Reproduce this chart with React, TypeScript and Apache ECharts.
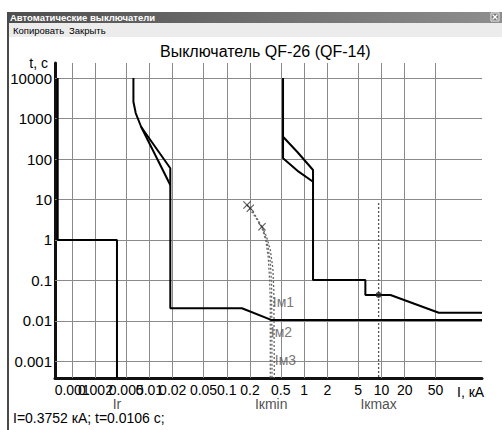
import React, { useEffect, useRef } from 'react';
import * as echarts from 'echarts';

const FONT = '"Liberation Sans", Arial, sans-serif';

// axis extents (log scales)
const X_MIN = 0.0006;
const X_MAX = 200;
const Y_MIN = 0.00039;
const Y_MAX = 23500;

// tick values and labels
const xTicks = [0.001, 0.002, 0.005, 0.01, 0.02, 0.05, 0.1, 0.2, 0.5, 1, 2, 5, 10, 20, 50];
const xTickLabels = ['0.001', '0.002', '0.005', '0.01', '0.02', '0.05', '0.1', '0.2', '0.5', '1', '2', '5', '10', '20', '50'];
const yTicks = [0.001, 0.01, 0.1, 1, 10, 100, 1000, 10000];
const yTickLabels = ['0.001', '0.01', '0.1', '1', '10', '100', '1000', '10000'];

// time-current characteristics [I, kA ; t, s]
const curveIr = [[0.00065, 10000], [0.00065, 1], [0.0038, 1], [0.0038, Y_MIN]];
const curveA = [[0.0062, 10000], [0.0062, 2600], [0.00664, 1367], [0.00737, 820], [0.00782, 617], [0.0186, 59], [0.0186, 0.0206], [0.157, 0.0206], [0.3752, 0.0106], [X_MAX, 0.0106]];
const curveA2 = [[0.00782, 617], [0.0186, 22.8]];
const curveB = [[0.534, 10000], [0.534, 355], [0.818, 149], [1.305, 53.5], [1.305, 0.103], [6.2, 0.103], [6.2, 0.0439], [13.1, 0.0439], [55.2, 0.016], [X_MAX, 0.016]];
const curveB2 = [[0.534, 355], [0.534, 104], [0.85, 48.6], [1.305, 27.5]];

// motor start curves (dotted)
const curveIm1 = [[0.1826, 7.32], [0.2203, 4.385], [0.2796, 2.216], [0.3197, 1], [0.3445, 0.3594], [0.3581, 0.103], [0.3656, 0.033], [0.3656, Y_MIN]];
const curveIm2 = [[0.2014, 6.06], [0.2409, 3.698], [0.2941, 1.868], [0.3345, 0.843], [0.3656, 0.2863], [0.3802, 0.0774], [0.3847, Y_MIN]];
const curveIm3 = [[0.2855, 2.13], [0.3246, 1.255], [0.3656, 0.567], [0.394, 0.2037], [0.4059, 0.0582], [0.412, Y_MIN]];
const crossPoints = [[0.1826, 7.32], [0.2014, 6.06], [0.2855, 2.13]];

// short-circuit currents
const ikMaxLine = [[9.2, 8.2], [9.2, Y_MIN]];
const ikMaxPoint = [[9.2, 0.0439]];
const bottomMarkNames = ['Ir', 'Iкmin', 'Iкmax'];
const bottomMarkValues = [0.0038, 0.3752, 9.2];
const imLabelNames = ['Iм1', 'Iм2', 'Iм3'];
const imLabelPoints = [[0.3656, 0.0294], [0.3445, 0.00535], [0.388, 0.00109]];

const cursorI = 0.3752;
const cursorT = 0.0106;

const gridLines = [
  ...xTicks.map((v, i) => ({ xAxis: v, label: { formatter: xTickLabels[i], distance: 5, fontSize: 14 } })),
  ...yTicks.map((v, i) => ({ yAxis: v, label: { formatter: yTickLabels[i], distance: 3, fontSize: 15 } })),
];

const solid = (name: string, data: number[][], extra: any = {}) => ({
  name,
  type: 'line',
  data,
  symbol: 'none',
  showSymbol: false,
  silent: true,
  z: 3,
  lineStyle: { color: '#000', width: 2 },
  ...extra,
});

const dotted = (name: string, data: number[][]) => ({
  name,
  type: 'line',
  data,
  symbol: 'none',
  showSymbol: false,
  silent: true,
  z: 2,
  lineStyle: { color: '#666', width: 1.3, type: [2, 2] },
});

const txt = (text: string, x: number, y: number, size: number, extra: any = {}) => ({
  type: 'text',
  x,
  y,
  silent: true,
  style: {
    text,
    fill: '#000',
    fontSize: size,
    fontFamily: FONT,
    align: 'left',
    verticalAlign: 'middle',
    textAlign: 'left',
    textVerticalAlign: 'middle',
    ...extra,
  },
});

const option: any = {
  animation: false,
  backgroundColor: '#fff',
  grid: { left: 55, right: 20, top: 63, bottom: 52 },
  xAxis: {
    type: 'log',
    logBase: 10,
    min: X_MIN,
    max: X_MAX,
    axisLine: { show: true, onZero: false, lineStyle: { color: '#111', width: 3 } },
    axisTick: { show: false },
    axisLabel: { show: false },
    splitLine: { show: false },
  },
  yAxis: {
    type: 'log',
    logBase: 10,
    min: Y_MIN,
    max: Y_MAX,
    axisLine: { show: true, onZero: false, lineStyle: { color: '#111', width: 3 } },
    axisTick: { show: false },
    axisLabel: { show: false },
    splitLine: { show: false },
  },
  graphic: [
    {
      type: 'rect',
      shape: { x: 8, y: 12, width: 494, height: 11 },
      style: {
        fill: new echarts.graphic.LinearGradient(0, 0, 1, 0, [
          { offset: 0, color: '#4e4e4e' },
          { offset: 1, color: '#8e8e8e' },
        ]),
      },
      silent: true,
    },
    txt('Автоматические выключатели', 10, 17.5, 9.5, { fill: '#fff', fontWeight: 'bold' }),
    {
      type: 'rect',
      shape: { x: 491, y: 13, width: 8, height: 8 },
      style: { fill: '#777', stroke: '#eee', lineWidth: 1 },
      silent: true,
    },
    { type: 'line', shape: { x1: 492.5, y1: 14.5, x2: 497.5, y2: 19.5 }, style: { stroke: '#fff', lineWidth: 1.2 }, silent: true },
    { type: 'line', shape: { x1: 497.5, y1: 14.5, x2: 492.5, y2: 19.5 }, style: { stroke: '#fff', lineWidth: 1.2 }, silent: true },
    {
      type: 'rect',
      shape: { x: 8, y: 23, width: 494, height: 14 },
      style: { fill: '#ececec' },
      silent: true,
    },
    txt('Копировать', 13, 30, 9.5),
    txt('Закрыть', 69, 30, 9.5),
    {
      type: 'rect',
      shape: { x: 7, y: 12, width: 2, height: 418 },
      style: { fill: '#4a4a4a' },
      silent: true,
    },
    txt('Выключатель QF-26 (QF-14)', 160, 51, 16),
    txt('t, c', 48, 63, 14, { align: 'right', textAlign: 'right' }),
    txt('I, кА', 457, 392, 14),
    txt('I=' + cursorI + ' кА; t=' + cursorT + ' c;', 13, 418, 14),
  ],
  series: [
    solid('Ir', curveIr, {
      markLine: {
        silent: true,
        symbol: ['none', 'none'],
        precision: 10,
        z: 1,
        animation: false,
        lineStyle: { color: '#8a8a8a', width: 1, type: 'solid' },
        label: { show: true, position: 'start', color: '#000', fontSize: 14, fontFamily: FONT },
        emphasis: { disabled: true },
        data: gridLines,
      },
    }),
    solid('A', curveA),
    solid('A2', curveA2),
    solid('B', curveB),
    solid('B2', curveB2),
    dotted('Im1', curveIm1),
    dotted('Im2', curveIm2),
    dotted('Im3', curveIm3),
    {
      name: 'Ikmax',
      type: 'line',
      data: ikMaxLine,
      symbol: 'none',
      silent: true,
      z: 2,
      lineStyle: { color: '#555', width: 1.3, type: [2, 2] },
    },
    {
      name: 'crosses',
      type: 'scatter',
      data: crossPoints,
      symbol: 'path://M1,0L5,4L9,0L10,1L6,5L10,9L9,10L5,6L1,10L0,9L4,5L0,1Z',
      symbolSize: 8,
      itemStyle: { color: '#333' },
      silent: true,
      z: 4,
    },
    {
      name: 'dot',
      type: 'scatter',
      data: ikMaxPoint,
      symbol: 'circle',
      symbolSize: 6,
      itemStyle: { color: '#222' },
      silent: true,
      z: 4,
    },
    {
      name: 'bottomMarks',
      type: 'scatter',
      data: bottomMarkValues.map((v, i) => ({ name: bottomMarkNames[i], value: [v, Y_MIN] })),
      symbolSize: 1,
      itemStyle: { color: 'rgba(0,0,0,0)' },
      clip: false,
      silent: true,
      label: { show: true, position: 'bottom', distance: 18, formatter: '{b}', color: '#222', fontSize: 14, fontFamily: FONT },
    },
    {
      name: 'imLabels',
      type: 'scatter',
      data: imLabelPoints.map((p, i) => ({ name: imLabelNames[i], value: p })),
      symbolSize: 1,
      itemStyle: { color: 'rgba(0,0,0,0)' },
      clip: false,
      silent: true,
      label: { show: true, position: 'right', distance: 2, formatter: '{b}', color: '#555', fontSize: 14, fontFamily: FONT },
    },
  ],
};

export default function App() {
  const ref = useRef<HTMLDivElement>(null);
  useEffect(() => {
    const chart = echarts.init(ref.current as HTMLDivElement, null, { renderer: 'svg' });
    chart.setOption(option);
    return () => chart.dispose();
  }, []);
  return (
    <div
      ref={ref}
      style={{ position: 'fixed', left: 0, top: 0, width: 502, height: 430, background: '#fff' }}
    />
  );
}
